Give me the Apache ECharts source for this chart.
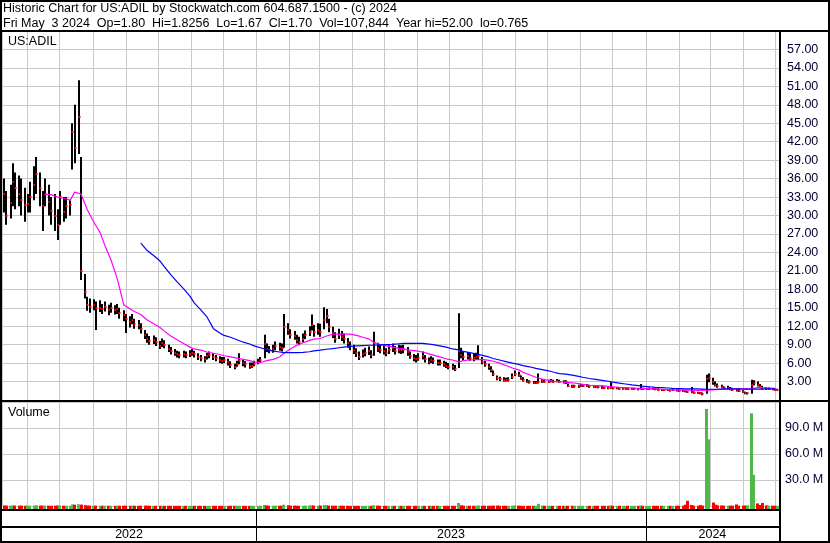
<!DOCTYPE html>
<html><head><meta charset="utf-8">
<script src="https://cdn.jsdelivr.net/npm/echarts@6/dist/echarts.min.js"></script>
<style>html,body{margin:0;padding:0;background:#fff}#c{width:830px;height:543px}</style>
</head><body><div id="c"></div>
<script>
const TITLE1 = 'Historic Chart for US:ADIL by Stockwatch.com 604.687.1500 - (c) 2024';
const TITLE2 = 'Fri May  3 2024  Op=1.80  Hi=1.8256  Lo=1.67  Cl=1.70  Vol=107,844  Year hi=52.00  lo=0.765';
const SYMBOL = 'US:ADIL';
const VOLUME_LABEL = 'Volume';
const LAST_DATE = [2024, 4, 3];
const BAR_COUNT = 260;
const years = ['2022', '2023', '2024'];

const closes = [
33.5,30.0,32.1,35.5,34.5,33.5,32.6,31.7,31.9,33.0,35.0,36.7,34.4,31.5,33.5,32.2,30.8,30.0,28.5,33.0,
30.5,31.5,31.7,43.5,41.0,46.0,21.0,17.5,15.4,15.2,15.5,15.0,15.0,14.8,15.2,14.6,14.9,14.6,14.8,14.2,
13.8,13.2,12.7,13.0,12.3,12.2,11.5,10.6,9.9,9.6,9.7,9.5,8.8,9.2,9.0,8.3,7.9,7.7,7.4,7.3,
7.4,7.3,7.5,7.7,7.4,7.0,6.8,6.6,7.1,7.3,7.0,6.8,6.5,6.4,6.5,6.1,5.7,5.4,5.9,6.3,
6.0,5.8,5.6,5.6,5.9,6.2,6.5,9.1,8.3,8.1,8.3,8.7,8.6,8.4,11.9,11.4,10.6,10.4,9.8,9.5,
10.0,10.5,11.1,12.2,11.1,11.4,11.1,13.0,13.6,11.9,10.9,10.0,10.6,10.3,9.9,9.2,8.7,8.1,7.6,7.0,
7.4,7.7,7.9,7.3,9.2,8.4,8.2,8.0,7.7,8.1,8.4,8.0,8.2,8.1,8.2,7.8,7.2,6.8,6.6,6.9,
7.2,6.6,6.2,6.5,6.3,6.0,6.0,5.8,5.6,5.4,5.3,5.1,7.9,7.3,7.0,7.1,6.9,6.8,7.0,7.1,
6.2,5.8,5.3,4.9,4.2,3.5,3.4,3.3,3.25,3.3,3.8,4.3,4.1,3.6,3.3,3.0,2.9,2.8,2.8,3.0,
3.1,3.0,3.0,3.1,3.0,3.1,3.0,2.9,2.9,2.3,2.2,2.2,2.2,2.3,2.3,2.3,2.2,2.2,2.1,2.05,
2.0,1.95,1.9,2.0,1.9,1.9,1.85,1.85,1.85,1.8,1.8,1.8,1.75,1.85,1.8,1.8,1.85,1.8,1.75,1.7,
1.6,1.6,1.6,1.55,1.6,1.55,1.5,1.45,1.4,1.3,1.25,1.2,1.15,1.1,1.0,3.4,3.5,2.9,2.5,2.2,
2.1,1.9,1.9,1.8,1.7,1.6,1.5,1.3,1.1,1.1,2.4,2.7,2.5,2.1,1.9,1.8,1.8,1.75,1.7,1.70
];
const highs = [
36.0,34.0,35.0,38.5,37.0,36.5,36.0,34.5,33.5,35.5,38.0,39.5,37.0,34.0,36.0,35.0,33.0,33.5,31.0,34.0,
33.0,33.0,32.5,45.0,48.0,52.0,39.5,20.5,16.8,16.5,16.4,16.0,16.2,15.6,16.0,15.5,15.8,15.4,15.6,15.0,
14.6,14.0,13.6,14.0,13.2,13.0,12.5,11.4,10.8,10.4,10.5,10.2,9.6,10.0,9.7,9.0,8.6,8.3,8.0,7.9,
8.0,7.9,8.1,8.3,8.0,7.6,7.3,7.1,7.7,7.9,7.6,7.3,7.1,7.0,7.0,6.7,6.3,5.9,6.4,7.6,
6.5,6.3,6.1,6.1,6.4,6.7,7.0,10.6,9.2,8.8,9.0,9.5,9.3,9.2,14.0,12.5,11.5,11.2,10.6,10.3,
10.8,11.3,12.0,13.9,12.2,12.5,12.4,15.1,14.8,13.2,11.9,11.0,11.6,11.2,10.8,10.1,9.5,9.0,8.4,7.9,
8.2,8.5,8.7,8.1,11.1,9.3,9.0,8.8,8.4,8.9,9.2,8.8,9.0,8.9,9.0,8.6,7.9,7.5,7.3,7.6,
7.9,7.3,6.9,7.1,6.9,6.6,6.6,6.4,6.2,6.0,5.9,5.7,14.1,8.5,7.8,7.8,7.6,7.5,7.7,8.9,
7.0,6.4,5.9,5.5,4.8,4.0,3.8,3.7,3.6,3.7,4.3,4.8,4.6,4.0,3.7,3.4,3.2,3.1,3.1,4.3,
3.4,3.3,3.3,3.4,3.3,3.4,3.3,3.2,3.2,2.7,2.5,2.5,2.5,2.6,2.6,2.6,2.5,2.45,2.4,2.3,
2.3,2.2,2.1,2.9,2.1,2.1,2.05,2.05,2.05,2.0,2.0,2.0,1.95,2.6,2.0,2.0,2.05,2.0,1.95,1.9,
1.8,1.8,1.8,1.75,1.8,1.75,1.7,1.65,1.6,1.5,2.1,1.4,1.35,1.3,1.2,4.1,4.3,3.6,3.0,2.7,
2.5,2.2,2.3,2.1,2.0,1.9,1.8,1.6,1.35,1.3,3.3,3.2,3.0,2.6,2.3,2.1,2.05,1.95,1.85,1.83
];
const lows = [
30.5,28.5,29.5,31.5,31.0,31.5,30.0,29.0,30.5,30.5,32.5,33.5,31.5,27.5,31.5,30.0,28.5,27.5,26.0,28.5,
29.0,29.5,30.0,37.5,38.5,40.0,19.5,16.5,14.5,14.2,14.6,11.4,14.3,14.0,14.4,13.8,14.2,13.9,14.0,13.2,
12.8,10.9,11.8,12.3,11.6,11.5,10.8,9.9,9.3,9.0,9.1,8.8,8.3,8.6,8.4,7.8,7.4,7.2,6.9,6.8,
6.9,6.8,7.0,7.2,6.9,6.5,6.3,6.1,6.6,6.8,6.5,6.3,6.0,5.9,6.0,5.6,5.2,5.0,5.4,5.8,
5.5,5.3,5.1,5.2,5.5,5.8,6.0,6.8,7.8,7.6,7.7,8.1,8.0,7.9,8.5,10.6,10.0,9.8,9.2,8.9,
9.4,9.9,10.4,11.3,10.3,10.6,10.3,11.5,12.5,11.0,10.1,9.3,9.9,9.6,9.2,8.5,8.1,7.5,7.0,6.5,
6.9,7.1,7.3,6.8,7.2,7.8,7.6,7.4,7.1,7.5,7.8,7.4,7.6,7.5,7.6,7.2,6.7,6.3,6.1,6.4,
6.6,6.1,5.8,6.0,5.9,5.6,5.6,5.4,5.2,5.0,4.9,4.7,5.2,6.8,6.5,6.6,6.4,6.3,6.5,6.6,
5.8,5.4,4.9,4.5,3.9,3.2,3.1,3.0,3.0,3.0,3.4,3.9,3.8,3.3,3.0,2.8,2.7,2.6,2.6,2.7,
2.8,2.8,2.8,2.9,2.8,2.9,2.8,2.7,2.6,2.1,2.0,2.0,2.0,2.1,2.1,2.1,2.0,2.0,1.95,1.9,
1.8,1.8,1.75,1.8,1.75,1.75,1.7,1.7,1.7,1.65,1.65,1.65,1.6,1.7,1.65,1.65,1.7,1.65,1.6,1.55,
1.45,1.45,1.45,1.4,1.45,1.4,1.35,1.3,1.25,1.15,1.1,1.05,1.0,0.95,0.77,1.0,2.9,2.5,2.2,2.0,
1.9,1.7,1.7,1.6,1.5,1.4,1.3,1.15,0.95,0.9,1.0,2.4,2.2,1.9,1.7,1.65,1.65,1.6,1.55,1.67
];
// volume in millions of shares
const volumesM = [
0.6,0.5,0.4,0.7,0.5,0.4,0.4,0.3,0.3,0.4,0.6,0.7,0.5,0.4,0.5,0.4,0.3,0.4,0.5,0.6,
0.4,0.3,0.3,1.8,1.5,2.0,1.6,0.9,0.5,0.4,0.3,0.4,0.3,0.3,0.3,0.3,0.3,0.2,0.3,0.3,
0.3,0.4,0.3,0.3,0.3,0.2,0.3,0.4,0.3,0.3,0.2,0.2,0.3,0.2,0.2,0.3,0.2,0.2,0.2,0.2,
0.2,0.2,0.2,0.2,0.2,0.2,0.2,0.2,0.2,0.2,0.2,0.2,0.2,0.2,0.2,0.2,0.3,0.3,0.2,0.4,
0.2,0.2,0.2,0.2,0.2,0.2,0.3,1.2,0.6,0.4,0.3,0.4,0.3,0.3,1.5,0.8,0.5,0.4,0.3,0.3,
0.3,0.4,0.5,0.8,0.5,0.4,0.5,1.1,0.9,0.5,0.4,0.3,0.3,0.3,0.3,0.3,0.2,0.2,0.2,0.2,
0.2,0.2,0.2,0.2,0.9,0.4,0.3,0.2,0.2,0.2,0.2,0.2,0.2,0.2,0.2,0.2,0.2,0.2,0.2,0.2,
0.2,0.2,0.2,0.2,0.2,0.2,0.2,0.2,0.2,0.2,0.2,0.2,3.5,0.8,0.4,0.3,0.3,0.3,0.3,0.6,
0.3,0.3,0.3,0.3,0.4,0.5,0.3,0.3,0.2,0.2,0.4,0.6,0.4,0.3,0.2,0.2,0.2,0.2,0.2,2.5,
0.4,0.3,0.2,0.2,0.2,0.2,0.2,0.2,0.2,0.3,0.3,0.2,0.2,0.2,0.2,0.2,0.2,0.2,0.2,0.2,
0.2,0.2,0.2,0.8,0.2,0.2,0.2,0.2,0.2,0.2,0.2,0.2,0.2,0.6,0.2,0.2,0.2,0.2,0.2,0.2,
0.2,0.2,0.2,0.2,0.2,0.2,0.3,0.3,1.5,6.0,1.2,0.5,0.4,1.0,0.5,112,77,4.0,1.5,0.8,
0.6,0.5,0.5,0.4,0.4,1.8,0.4,0.4,0.5,0.6,107,36,3.0,1.2,3.5,0.8,0.6,0.4,0.3,0.11
];
// moving averages every 2nd bar
const MA_STEP = 2;
const MA_SHORT_START = 14;
const maShort = [
33.4,33.4,33.0,32.8,32.5,33.8,33.5,30.9,28.9,27.2,25.3,22.8,19.7,15.5,14.8,14.4,13.9,13.0,12.4,11.8,
11.2,10.4,9.8,9.2,8.6,8.3,8.1,7.8,7.6,7.4,7.2,7.0,6.8,6.6,6.4,6.2,6.1,6.4,6.6,7.0,
7.6,8.3,8.9,9.3,9.7,9.9,10.0,10.4,10.7,10.7,10.7,10.7,10.5,10.2,9.9,9.4,9.0,8.8,8.6,8.4,
8.3,8.1,8.0,7.8,7.5,7.3,7.0,6.7,6.5,6.2,6.4,6.5,6.55,6.6,6.45,6.3,6.0,5.6,5.2,4.9,
4.5,4.1,3.7,3.4,3.2,3.05,3.0,2.9,2.8,2.65,2.55,2.4,2.35,2.3,2.2,2.15,2.05,2.0,1.95,1.9,
1.9,1.85,1.8,1.75,1.7,1.65,1.6,1.6,1.6,1.55,1.55,1.6,1.7,1.75,1.8,1.8,1.8,1.8,1.85,2.0,
2.0,1.95,1.9
];
const MA_LONG_START = 46;
const maLong = [
25.5,24.3,23.5,22.6,21.7,20.4,19.2,18.1,16.9,15.8,14.7,13.5,11.6,10.9,10.5,10.2,9.8,9.4,9.1,8.8,
8.5,8.2,7.95,7.8,7.7,7.7,7.7,7.75,7.85,8.0,8.1,8.25,8.35,8.5,8.6,8.7,8.8,8.85,8.9,8.9,
8.95,9.0,9.05,9.15,9.2,9.2,9.2,9.2,9.1,9.0,8.8,8.6,8.3,8.15,7.9,7.7,7.5,7.25,7.0,6.75,
6.5,6.25,6.0,5.8,5.6,5.4,5.15,4.95,4.75,4.55,4.3,4.2,4.05,3.85,3.7,3.5,3.35,3.2,3.05,2.9,
2.75,2.6,2.45,2.35,2.25,2.15,2.05,2.0,1.95,1.9,1.85,1.8,1.8,1.8,1.78,1.75,1.75,1.78,1.8,1.8,
1.8,1.78,1.78,1.78,1.78,1.8,1.8
];

// ---- trading dates: every other weekday counting back from the last session
function buildDates(last, count) {
  const out = [];
  const d = new Date(last[0], last[1], last[2]);
  let k = 0;
  while (out.length < count) {
    const wd = d.getDay();
    if (wd !== 0 && wd !== 6) { if (k % 2 === 0) out.push(d.getTime()); k++; }
    d.setDate(d.getDate() - 1);
  }
  return out.reverse();
}
const dates = buildDates(LAST_DATE, BAR_COUNT);
const X_MIN = new Date(2022, 4, 8).getTime();
const X_MAX = new Date(2024, 4, 4, 17).getTime();
const DAY = 864e5;

const FONT = '"Liberation Sans", Arial, sans-serif';
const FS = 12.5;

const ohlcData = dates.map((t, i) => [t, highs[i], lows[i], closes[i]]);
const volData = dates.map((t, i) => [t, volumesM[i] * 1e6, (i > 0 && closes[i] >= closes[i - 1]) ? 1 : 0]);
const maShortData = maShort.map((v, k) => [dates[MA_SHORT_START + k * MA_STEP], v]).filter(p => p[0] !== undefined);
const maLongData = maLong.map((v, k) => [dates[MA_LONG_START + k * MA_STEP], v]).filter(p => p[0] !== undefined);
const yearData = years.map(y => [new Date(+y, 0, 1).getTime(), new Date(+y + 1, 0, 1).getTime()]);

function renderBar(params, api) {
  const t = api.value(0);
  const pH = api.coord([t, api.value(1)]);
  const pL = api.coord([t, api.value(2)]);
  const pC = api.coord([t, api.value(3)]);
  const x = Math.round(pH[0]) - 1;
  return { type: 'group', children: [
    { type: 'rect', shape: { x: x, y: pH[1], width: 2, height: Math.max(1, pL[1] - pH[1]) }, style: { fill: '#000' } },
    { type: 'rect', shape: { x: x + 0.5, y: Math.round(pC[1]) - 1, width: 2, height: 2 }, style: { fill: '#ff0000' } }
  ]};
}
function renderVol(params, api) {
  const t = api.value(0);
  const base = api.coord([t, 0]);
  const top = api.coord([t, api.value(1)]);
  const yb = base[1] + 3;
  const yt = Math.min(top[1], base[1]);
  return { type: 'rect', shape: { x: Math.round(base[0] - 1.5), y: yt, width: 3, height: yb - yt },
    style: { fill: api.value(2) ? '#50b848' : '#ff0000' } };
}
function renderYear(params, api) {
  const cs = params.coordSys;
  const a = api.coord([api.value(0), 0])[0];
  const b = api.coord([api.value(1), 0])[0];
  const L = Math.max(a, cs.x), R = Math.min(b, cs.x + cs.width);
  const yMid = api.coord([api.value(0), 0.5])[1];
  const children = [{ type: 'text', style: { text: years[params.dataIndex], x: (L + R) / 2, y: yMid,
    align: 'center', verticalAlign: 'middle', fill: '#000', font: FS + 'px ' + FONT } }];
  if (a > cs.x + 1) {
    const xs = Math.round(a) + 0.5;
    children.push({ type: 'line', shape: { x1: xs, y1: cs.y, x2: xs, y2: cs.y + cs.height }, style: { stroke: '#000', lineWidth: 1 } });
  }
  return { type: 'group', children };
}

const gridLine = { show: true, lineStyle: { color: '#c8c8c8', width: 1 } };
const timeAxis = (gi, split) => ({
  type: 'time', gridIndex: gi, min: X_MIN, max: X_MAX,
  minInterval: 28 * DAY, maxInterval: 31 * DAY, splitNumber: 24,
  axisLine: { show: false }, axisTick: { show: false }, axisLabel: { show: false },
  splitLine: split ? gridLine : { show: false }
});

const chart = echarts.init(document.getElementById('c'), null, { renderer: 'canvas' });
chart.setOption({
  animation: false,
  backgroundColor: '#fff',
  title: [
    { text: TITLE1, left: 3, top: 2, padding: 0, textStyle: { fontSize: FS, fontWeight: 'normal', fontFamily: FONT, color: '#000' } },
    { text: TITLE2, left: 3, top: 17, padding: 0, textStyle: { fontSize: FS, fontWeight: 'normal', fontFamily: FONT, color: '#000' } },
    { text: SYMBOL, left: 8, top: 35, padding: 0, textStyle: { fontSize: FS, fontWeight: 'normal', fontFamily: FONT, color: '#000' } },
    { text: VOLUME_LABEL, left: 8, top: 406, padding: 0, textStyle: { fontSize: FS, fontWeight: 'normal', fontFamily: FONT, color: '#000' } }
  ],
  grid: [
    { left: 2, right: 51, top: 31, height: 369 },
    { left: 2, right: 51, top: 402, height: 104 },
    { left: 2, right: 51, top: 509, height: 34 }
  ],
  xAxis: [timeAxis(0, true), timeAxis(1, true), Object.assign(timeAxis(2, false), { show: false })],
  yAxis: [
    { type: 'value', gridIndex: 0, position: 'right', min: 0, max: 60, interval: 3,
      axisLine: { show: false }, axisTick: { show: false }, splitLine: gridLine,
      axisLabel: { margin: 8, fontSize: FS, fontFamily: FONT, color: '#000033',
        formatter: v => (v <= 0 || v >= 60) ? '' : v.toFixed(2) } },
    { type: 'value', gridIndex: 1, position: 'right', min: 0, max: 120e6, interval: 30e6,
      axisLine: { show: false }, axisTick: { show: false }, splitLine: gridLine,
      axisLabel: { margin: 6, fontSize: FS, fontFamily: FONT, color: '#000033',
        formatter: v => (v <= 0 || v >= 120e6) ? '' : (v / 1e6).toFixed(1) + ' M' } },
    { type: 'value', gridIndex: 2, min: 0, max: 2, show: false }
  ],
  series: [
    { type: 'custom', name: 'price', xAxisIndex: 0, yAxisIndex: 0, renderItem: renderBar, data: ohlcData,
      encode: { x: 0, y: [1, 2, 3] }, z: 2, silent: true },
    { type: 'line', name: 'MA short', xAxisIndex: 0, yAxisIndex: 0, data: maShortData, symbol: 'none',
      lineStyle: { color: '#ff00ff', width: 1.2 }, z: 4, silent: true },
    { type: 'line', name: 'MA long', xAxisIndex: 0, yAxisIndex: 0, data: maLongData, symbol: 'none',
      lineStyle: { color: '#0000ff', width: 1.2 }, z: 4, silent: true },
    { type: 'custom', name: 'volume', xAxisIndex: 1, yAxisIndex: 1, renderItem: renderVol, data: volData,
      encode: { x: 0, y: 1 }, z: 2, silent: true },
    { type: 'custom', name: 'years', xAxisIndex: 2, yAxisIndex: 2, renderItem: renderYear, data: yearData,
      encode: { x: [0, 1] }, z: 5, silent: true }
  ],
  graphic: [
    { type: 'rect', z: 100, silent: true, shape: { x: 1, y: 1, width: 828, height: 541 }, style: { fill: 'none', stroke: '#000', lineWidth: 2 } },
    { type: 'line', z: 100, silent: true, shape: { x1: 0, y1: 31, x2: 830, y2: 31 }, style: { stroke: '#000', lineWidth: 2 } },
    { type: 'line', z: 100, silent: true, shape: { x1: 0, y1: 401, x2: 830, y2: 401 }, style: { stroke: '#000', lineWidth: 2 } },
    { type: 'line', z: 100, silent: true, shape: { x1: 0, y1: 510, x2: 780, y2: 510 }, style: { stroke: '#000', lineWidth: 2 } },
    { type: 'line', z: 100, silent: true, shape: { x1: 0, y1: 527, x2: 780, y2: 527 }, style: { stroke: '#000', lineWidth: 2 } },
    { type: 'line', z: 100, silent: true, shape: { x1: 780, y1: 31, x2: 780, y2: 543 }, style: { stroke: '#000', lineWidth: 2 } }
  ]
});
</script>
</body></html>
